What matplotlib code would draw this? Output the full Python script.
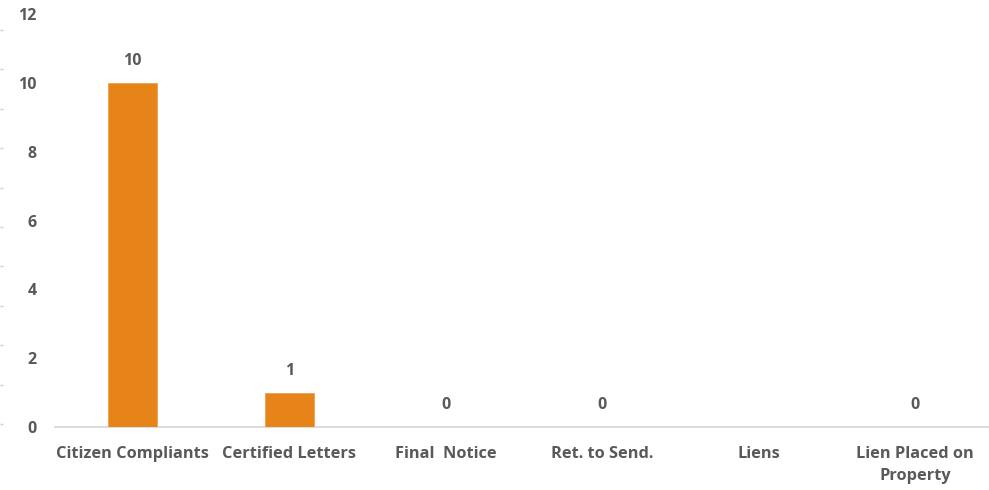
import numpy as np
import matplotlib.pyplot as plt

categories = ["Citizen Compliants", "Certified Letters", "Final  Notice",
              "Ret. to Send.", "Liens", "Lien Placed on\nProperty"]
values = [10, 1, 0, 0, np.nan, 0]
y_ticks = [0, 2, 4, 6, 8, 10, 12]

bar_color = "#E6841A"
text_color = "#595959"
plt.rcParams['font.family'] = ['Open Sans', 'DejaVu Sans']

fig = plt.figure(figsize=(9.89, 4.90), dpi=100)
W, H = 989, 490
ax = fig.add_axes([54.5 / W, 1 - 427 / H, 939 / W, 413 / H])

x = np.arange(len(categories))
ax.bar(x, values, width=0.31, color=bar_color, edgecolor="#F0A050", linewidth=0.6, zorder=3)

for xi, v in zip(x, values):
    if np.isnan(v):
        continue
    ax.annotate(f"{v:g}", (xi, v), xytext=(0, 10), textcoords="offset points",
                ha="center", va="bottom", fontsize=11.5, fontweight="bold", color=text_color)

ax.set_xlim(-0.5, len(categories) - 0.5)
ax.set_ylim(0, 12)
ax.set_yticks(y_ticks)
ax.set_yticklabels([str(t) for t in y_ticks])
ax.set_xticks(x)
ax.set_xticklabels(categories, linespacing=1.45)

for s in ["top", "right", "left"]:
    ax.spines[s].set_visible(False)
ax.spines["bottom"].set_color("#D9D9D9")
ax.spines["bottom"].set_linewidth(1.3)

ax.tick_params(axis="y", length=0, pad=13, labelsize=11.5, labelcolor=text_color)
ax.tick_params(axis="x", length=0, pad=14, labelsize=11.75, labelcolor=text_color)
for lbl in ax.get_xticklabels() + ax.get_yticklabels():
    lbl.set_fontweight("bold")

# faint tick marks along the left edge of the picture
edge = fig.add_axes([0, 1 - 424 / H, 0.01, 394 / H])
edge.set_ylim(0, 10)
edge.set_yticks(range(11))
edge.set_yticklabels([])
edge.set_xticks([])
for s in edge.spines.values():
    s.set_visible(False)
edge.tick_params(axis="y", direction="in", length=2.5, color="#D0D0D0", width=1)
edge.patch.set_visible(False)

fig.savefig("out.png", dpi=100)
